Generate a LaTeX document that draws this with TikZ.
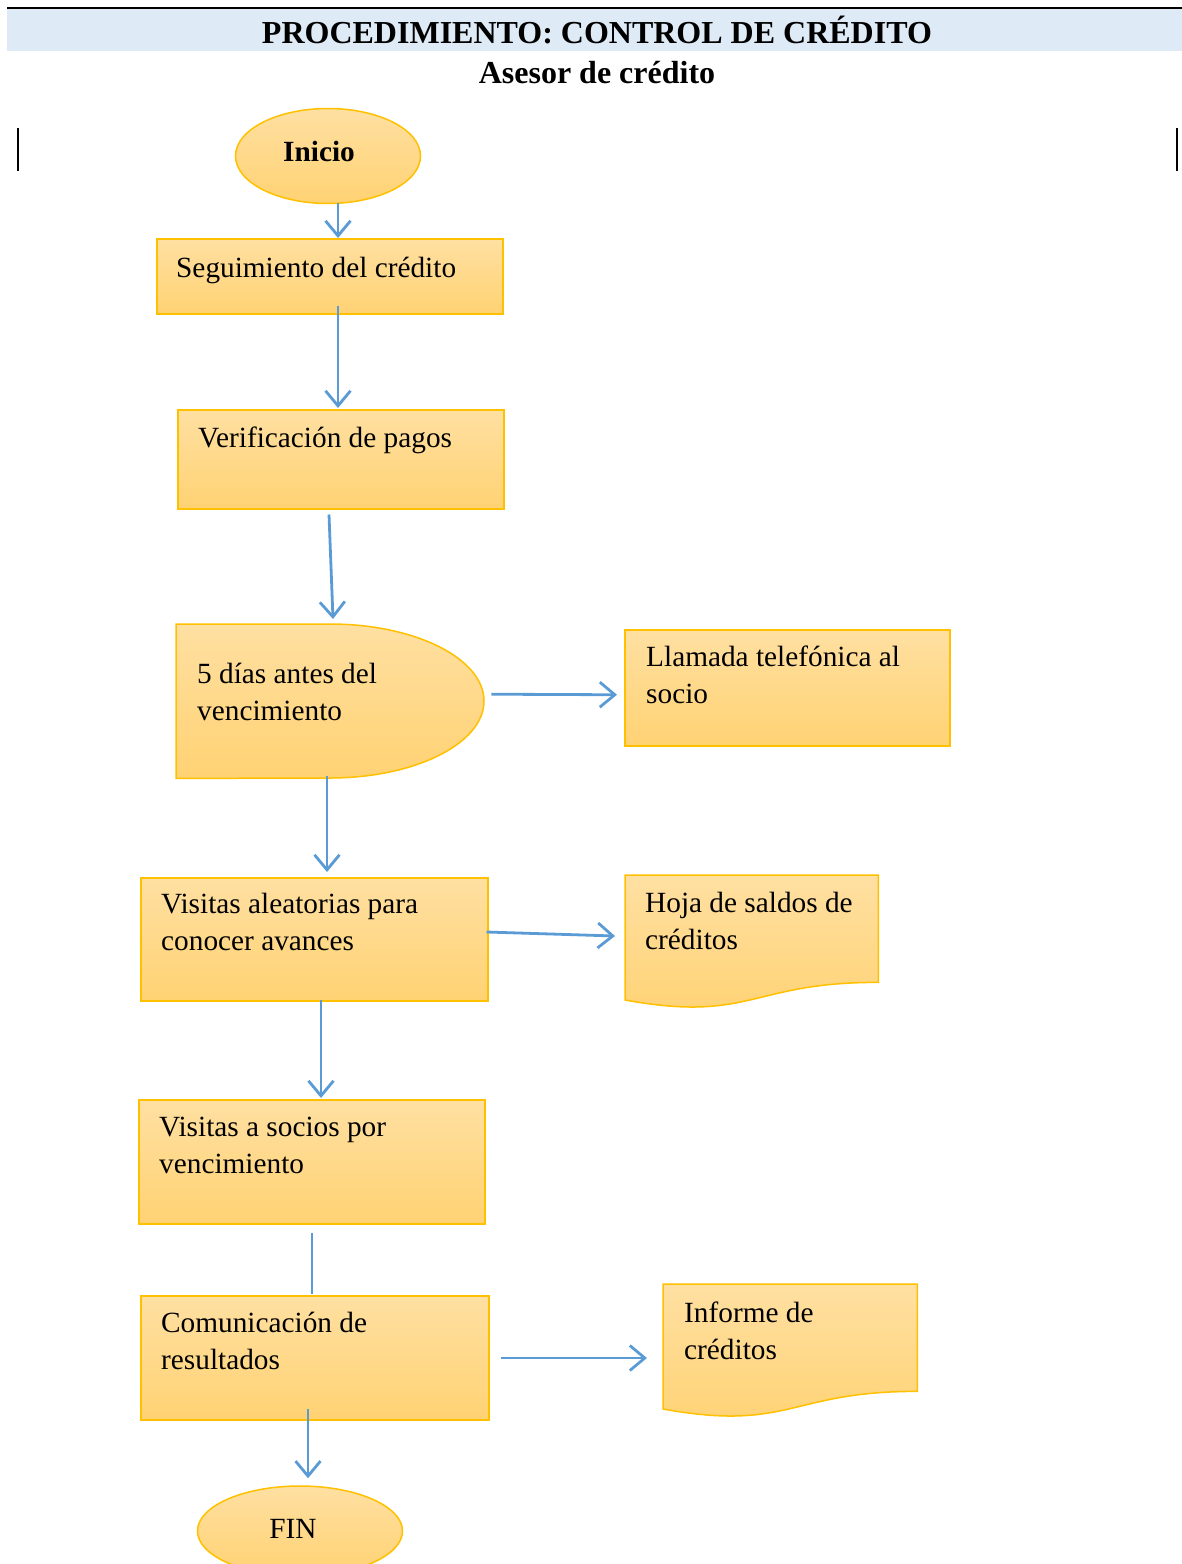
\documentclass[tikz,border=0pt]{standalone}
\usepackage{fontspec}
\setmainfont{Liberation Serif}
\usetikzlibrary{arrows.meta,shapes.geometric,calc}
\definecolor{boxtop}{RGB}{255,224,162}
\definecolor{boxbot}{RGB}{255,210,115}
\definecolor{boxline}{RGB}{255,192,0}
\definecolor{flow}{RGB}{91,155,213}
\definecolor{band}{RGB}{222,234,246}
\begin{document}
\begin{tikzpicture}[x=1pt,y=-1pt,
  shapefill/.style={draw=boxline, line width=1.5pt, top color=boxtop, bottom color=boxbot},
  procbox/.style={shapefill, rectangle, inner sep=0pt, anchor=north west},
  startstop/.style={shapefill, ellipse, inner sep=0pt},
  frame/.style={rectangle, inner sep=0pt, anchor=north west},
  boxtext/.style={anchor=base west, inner sep=0pt, text width=330pt, align=flush left,
                  font=\fontsize{29.3}{37}\selectfont},
  termtext/.style={anchor=base, inner sep=0pt, font=\fontsize{29.3}{35}\selectfont},
  headtext/.style={anchor=base, inner sep=0pt, font=\fontsize{32}{38}\selectfont\bfseries},
  flowline/.style={draw=flow, line width=2.8pt},
  flowarrow/.style={flowline, -{Straight Barb[length=15pt,width=25pt,line width=2.8pt]}}
]
\useasboundingbox (0,0) rectangle (1182,1564);

% header band and rules
\fill[band] (7,9) rectangle (1182,51);
\draw[line width=2.5pt] (7,8) -- (1182,8);
\node[headtext] (title) at (597,43) {PROCEDIMIENTO: CONTROL DE CRÉDITO};
\node[headtext] (role) at (597,83) {Asesor de crédito};
\draw[line width=2pt] (18,128) -- (18,171);
\draw[line width=2pt] (1177,128) -- (1177,171);

% start / end terminals
\node[startstop, minimum width=185pt, minimum height=95pt] (ini) at (328,156) {};
\node[termtext, font=\fontsize{29.3}{35}\selectfont\bfseries] (initxt) at (319,161) {Inicio};
\node[startstop, minimum width=205pt, minimum height=90pt] (fin) at (300,1531) {};
\node[termtext] (fintxt) at (293,1538) {FIN};

% process boxes
\node[procbox, minimum width=346pt, minimum height=75pt]  (b1)   at (156,238)  {};
\node[procbox, minimum width=326pt, minimum height=99pt]  (b2)   at (177,409)  {};
\node[procbox, minimum width=325pt, minimum height=116pt] (call) at (624,629)  {};
\node[procbox, minimum width=347pt, minimum height=123pt] (b3)   at (140,877)  {};
\node[procbox, minimum width=346pt, minimum height=124pt] (b4)   at (138,1099) {};
\node[procbox, minimum width=348pt, minimum height=124pt] (b5)   at (140,1295) {};

% delay shape
\node[frame, minimum width=308pt, minimum height=154pt] (dl) at (176,624) {};
\path[shapefill] (dl.north west) -- ++(154,0)
   arc[start angle=-90, end angle=90, x radius=154, y radius=77]
   -- (dl.south west) -- cycle;

% document shapes
\node[frame, minimum width=253pt, minimum height=107pt] (hoja) at (625,875) {};
\path[shapefill] (hoja.north west) -- (hoja.north east) -- (hoja.south east)
   .. controls ($(hoja.north west)+(126,107)$) and ($(hoja.north west)+(126,148)$)
   .. ($(hoja.north west)+(0,125)$) -- cycle;
\node[frame, minimum width=254pt, minimum height=107pt] (inf) at (663,1284) {};
\path[shapefill] (inf.north west) -- (inf.north east) -- (inf.south east)
   .. controls ($(inf.north west)+(127,107)$) and ($(inf.north west)+(127,148)$)
   .. ($(inf.north west)+(0,125)$) -- cycle;

% texts
\node[boxtext] (t1) at (176,277)  {Seguimiento del crédito};
\node[boxtext] (t2) at (198,447)  {Verificación de pagos};
\node[boxtext] (t3) at (197,683)  {5 días antes del\\vencimiento};
\node[boxtext] (t4) at (646,666)  {Llamada telefónica al\\socio};
\node[boxtext] (t5) at (161,913)  {Visitas aleatorias para\\conocer avances};
\node[boxtext] (t6) at (645,912)  {Hoja de saldos de\\créditos};
\node[boxtext] (t7) at (159,1136) {Visitas a socios por\\vencimiento};
\node[boxtext] (t8) at (161,1332) {Comunicación de\\resultados};
\node[boxtext] (t9) at (684,1322) {Informe de\\créditos};

% connectors
\draw[flowarrow] ($(ini.south)+(10,-1)$) -- ($(b1.north west)+(182,0)$);
\draw[flowarrow] ($(b1.south west)+(182,-9)$) -- ($(b2.north west)+(161,-1)$);
\draw[flowarrow] ($(b2.south west)+(152,5)$) -- ($(dl.north west)+(157,-5)$);
\draw[flowarrow] ($(dl.east)+(7,-7)$) -- ($(call.west)+(-7,7)$);
\draw[flowarrow] ($(dl.south west)+(151,-2)$) -- ($(b3.north west)+(187,-5)$);
\draw[flowarrow] ($(b3.north east)+(-2,55)$) -- ($(hoja.north west)+(-10,61)$);
\draw[flowarrow] ($(b3.south west)+(181,-2)$) -- ($(b4.north west)+(183,-1)$);
\draw[flowline]  ($(b4.south west)+(174,8)$) -- ($(b5.north west)+(172,-1)$);
\draw[flowarrow] ($(b5.north east)+(11,63)$) -- ($(inf.north west)+(-16,74)$);
\draw[flowarrow] ($(b5.south west)+(168,-12)$) -- ($(fin.north)+(8,-7)$);
\end{tikzpicture}
\end{document}
